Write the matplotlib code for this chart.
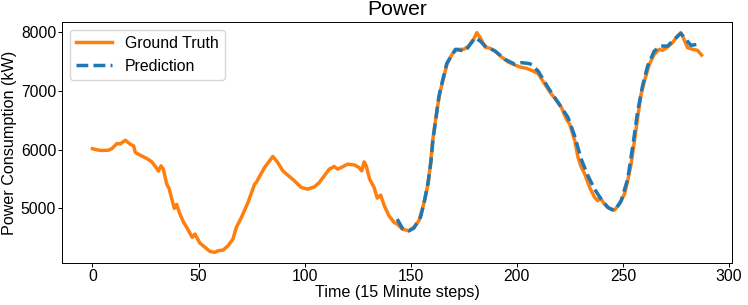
import matplotlib
matplotlib.use("Agg")
import matplotlib.pyplot as plt

plt.rcParams['font.family'] = ['Liberation Sans', 'DejaVu Sans']

# Ground truth (time step, kW)
gt_t = [0, 2.2, 4.5, 7.6, 9.2, 11.6, 13.1, 15.5, 17.8, 19.4, 20.2, 22.5, 25.6, 28.0, 30.3,
        31.1, 32.3, 33.4, 35.0, 36.1, 37.6, 38.6, 39.7, 40.9, 42.8, 44.4, 46.4, 47.0, 48.3,
        50.6, 53.0, 55.3, 57.7, 59.2, 61.6, 63.9, 66.2, 67.8, 70.2, 73.3, 76.4, 77.2, 81.1,
        85.0, 87.3, 89.7, 92.0, 95.2, 98.3, 101.4, 104.6, 106.9, 109.2, 111.6, 113.9, 115.5,
        117.8, 120.2, 123.3, 125.6, 126.9, 128.0, 129.0, 130.6, 132.7, 134.2, 135.8, 137.4,
        139.7, 142.1, 143.6, 146.0, 149.1, 151.4, 153.8, 156.1, 158.1, 159.3, 160.3, 161.6,
        162.8, 163.9, 165.5, 167.0, 169.4, 171.7, 174.9, 177.2, 179.6, 181.1, 182.7, 185.0,
        187.4, 189.7, 192.8, 195.9, 199.1, 201.5, 204.5, 207.7, 210.0, 213.2, 216.3, 219.1,
        221.0, 223.3, 224.9, 227.3, 228.8, 230.4, 232.0, 234.3, 236.6, 238.2, 239.0, 241.3,
        243.6, 246.0, 248.3, 250.7, 252.2, 253.8, 255.4, 256.9, 258.5, 260.1, 262.4, 264.7,
        267.1, 268.6, 271.0, 273.3, 275.7, 277.2, 278.4, 280.4, 282.8, 285.1, 287.0]
gt_kw = [6015, 5994, 5984, 5989, 6018, 6103, 6096, 6159, 6091, 6062, 5950, 5904, 5848, 5790,
         5678, 5632, 5722, 5666, 5411, 5338, 5127, 4998, 5066, 4930, 4770, 4675, 4544, 4505,
         4561, 4408, 4335, 4267, 4250, 4277, 4289, 4362, 4476, 4675, 4845, 5100, 5411, 5440,
         5695, 5882, 5780, 5637, 5564, 5467, 5355, 5326, 5365, 5440, 5552, 5666, 5712, 5666,
         5705, 5751, 5739, 5695, 5637, 5790, 5722, 5496, 5355, 5173, 5224, 5054, 4872, 4760,
         4731, 4646, 4617, 4675, 4787, 5071, 5411, 5751, 6147, 6487, 6771, 6997, 7225, 7451,
         7621, 7706, 7706, 7762, 7876, 7990, 7905, 7745, 7723, 7677, 7575, 7490, 7439, 7405,
         7383, 7337, 7293, 7111, 6941, 6817, 6715, 6516, 6431, 6147, 5865, 5695, 5581, 5355,
         5185, 5127, 5185, 5071, 4998, 4969, 5071, 5241, 5467, 5751, 6147, 6545, 6941, 7167,
         7451, 7621, 7706, 7689, 7745, 7820, 7932, 7990, 7905, 7735, 7706, 7689, 7609]

# Prediction (time step, kW)
pr_t = [143.6, 146.0, 149.1, 151.4, 154.6, 156.3, 158.2, 159.5, 160.5, 161.8, 163.2, 165.0,
        167.0, 171.0, 175.7, 180.3, 182.7, 185.0, 189.7, 194.4, 199.1, 202.2, 206.1, 210.0,
        214.7, 219.4, 224.1, 227.2, 230.3, 233.5, 236.6, 239.7, 242.8, 246.0, 249.1, 252.2,
        254.6, 256.9, 259.2, 261.6, 264.7, 267.8, 271.0, 274.1, 277.2, 279.6, 282.0, 285.0]
pr_kw = [4816, 4660, 4617, 4660, 4850, 5100, 5450, 5800, 6180, 6520, 6900, 7180,
         7470, 7706, 7677, 7905, 7847, 7762, 7677, 7536, 7451, 7480, 7462, 7337,
         7055, 6800, 6545, 6232, 5836, 5552, 5326, 5156, 5015, 4957, 5127, 5496,
         6062, 6650, 7082, 7422, 7677, 7762, 7762, 7876, 7978, 7876, 7774, 7791]

fig = plt.figure(figsize=(7.48, 3.05), dpi=100)
ax = fig.add_axes([0.0829, 0.1367, 0.8957, 0.7922])

ax.plot(gt_t, gt_kw, color='#ff7f0e', lw=2.5, label='Ground Truth')
ax.plot(pr_t, pr_kw, color='#1f77b4', lw=2.5, ls=(0, (3.4, 1.5)), label='Prediction')

ax.set_title('Power', fontsize=15.2, pad=5)
ax.set_xlabel('Time (15 Minute steps)', fontsize=11.6, labelpad=0.6)
ax.set_ylabel('Power Consumption (kW)', fontsize=11.6, labelpad=3.0)
ax.tick_params(labelsize=11.3, length=3, pad=1.2, width=0.7)
for sp in ax.spines.values():
    sp.set_linewidth(0.7)
ax.set_xticks([0, 50, 100, 150, 200, 250, 300])
ax.set_yticks([5000, 6000, 7000, 8000])
ax.legend(loc='upper left', fontsize=11.4, handlelength=2.25)

fig.savefig('out.png', dpi=100)
